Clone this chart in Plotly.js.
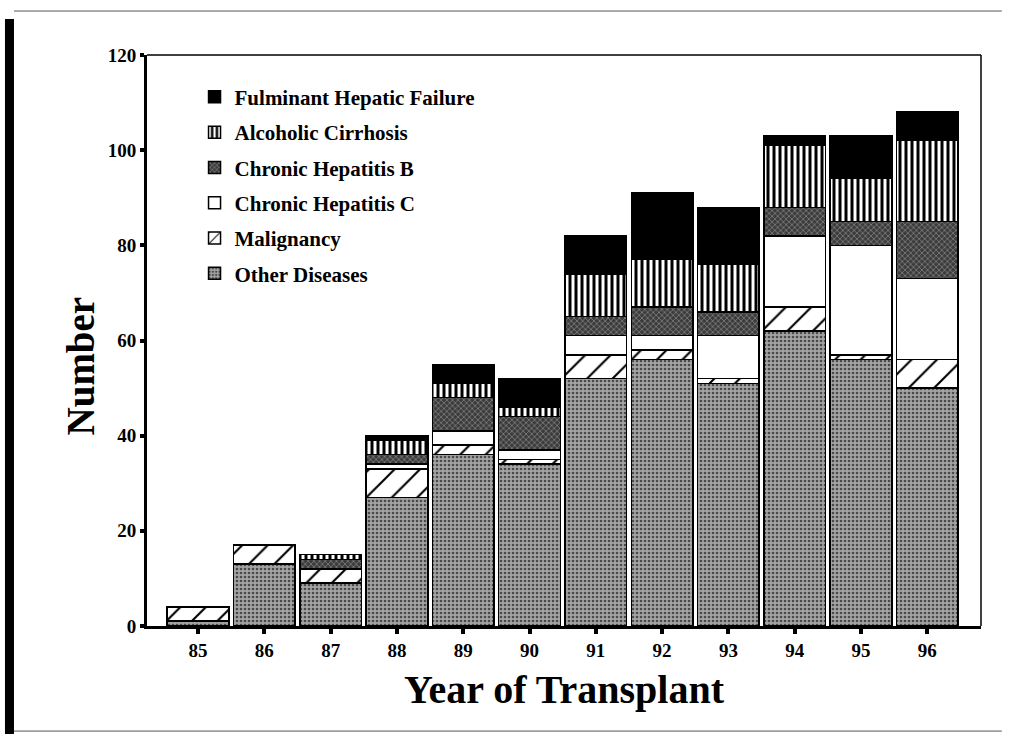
<!DOCTYPE html>
<html>
<head>
<meta charset="utf-8">
<script src="https://cdn.plot.ly/plotly-3.0.1.min.js"></script>
<style>html,body{margin:0;padding:0;background:#fff;}#chart{width:1011px;height:734px;}</style>
</head>
<body>
<div id="chart"></div>
<script>
// Data
var years = ['85','86','87','88','89','90','91','92','93','94','95','96'];
var otherDiseases      = [1, 13, 9, 27, 36, 34, 52, 56, 51, 62, 56, 50];
var malignancy         = [3, 4, 3, 6, 2, 1, 5, 2, 1, 5, 1, 6];
var chronicHepatitisC  = [0, 0, 0, 1, 3, 2, 4, 3, 9, 15, 23, 17];
var chronicHepatitisB  = [0, 0, 2, 2, 7, 7, 4, 6, 5, 6, 5, 12];
var alcoholicCirrhosis = [0, 0, 1, 3, 3, 2, 9, 10, 10, 13, 9, 17];
var fulminantFailure   = [0, 0, 0, 1, 4, 6, 8, 14, 12, 2, 9, 6];
var yTicks = [0, 20, 40, 60, 80, 100, 120];

var serif = '"Liberation Serif", "Times New Roman", serif';
var outline = {color: '#000', width: 1.5};
var barW = 0.93;

function bar(name, y, rank, pattern) {
  return {
    type: 'bar', name: name, x: years, y: y, width: barW,
    legendgroup: name, legendrank: rank,
    marker: {color: pattern.bg, line: outline,
             pattern: {shape: pattern.shape || '', fgcolor: pattern.fg || '#000',
                       bgcolor: pattern.bg, size: pattern.size || 8,
                       solidity: pattern.solidity || 0.3, fillmode: 'replace'}},
    hoverinfo: 'name+y'
  };
}

var data = [
  bar('Other Diseases', otherDiseases, 6, {bg: '#a4a4a4', shape: '.', fg: '#4a4a4a', size: 4, solidity: 0.35}),
  bar('Malignancy', malignancy, 5, {bg: '#ffffff', shape: '/', fg: '#000', size: 18, solidity: 0.12}),
  bar('Chronic Hepatitis C', chronicHepatitisC, 4, {bg: '#ffffff'}),
  bar('Chronic Hepatitis B', chronicHepatitisB, 3, {bg: '#3c3c3c', shape: 'x', fg: '#bdbdbd', size: 4, solidity: 0.2}),
  bar('Alcoholic Cirrhosis', alcoholicCirrhosis, 2, {bg: '#ffffff', shape: '|', fg: '#000', size: 6, solidity: 0.5}),
  bar('Fulminant Hepatic Failure', fulminantFailure, 1, {bg: '#000000'})
];

var layout = {
  width: 1011, height: 734,
  margin: {l: 147, r: 30, t: 55, b: 108},
  paper_bgcolor: '#fff', plot_bgcolor: '#fff',
  barmode: 'stack',
  bargap: 0.07,
  showlegend: true,
  legend: {
    x: 0.057, y: 0.962, xanchor: 'left', yanchor: 'top',
    traceorder: 'grouped', tracegroupgap: 5,
    bgcolor: 'rgba(0,0,0,0)', borderwidth: 0,
    font: {family: serif, size: 21, color: '#000', weight: 'bold'}
  },
  xaxis: {
    type: 'category', range: [-0.77, 11.81],
    showline: true, linecolor: '#000', linewidth: 3,
    ticks: 'outside', ticklen: 5, tickwidth: 4, tickcolor: '#000',
    showgrid: false, zeroline: false,
    tickfont: {family: serif, size: 19, color: '#000', weight: 'bold'},
    title: {text: 'Year of Transplant', standoff: 16,
            font: {family: serif, size: 40, color: '#000', weight: 'bold'}}
  },
  yaxis: {
    range: [0, 120], tickvals: yTicks, ticktext: yTicks.map(String),
    showline: true, linecolor: '#000', linewidth: 3,
    ticks: 'outside', ticklen: 4, tickwidth: 4, tickcolor: '#000',
    showgrid: false, zeroline: false,
    tickfont: {family: serif, size: 19, color: '#000', weight: 'bold'}
  },
  annotations: [
    {text: 'Number', xref: 'paper', yref: 'paper', x: -0.080, y: 0.455,
     xanchor: 'center', yanchor: 'middle', textangle: -90, showarrow: false,
     font: {family: serif, size: 39, color: '#000', weight: 'bold'}}
  ],
  shapes: [
    // thin frame around the plot area (top and right)
    {type: 'line', xref: 'paper', yref: 'paper', x0: 0, x1: 1, y0: 1, y1: 1, line: {color: '#000', width: 1.5}},
    {type: 'line', xref: 'paper', yref: 'paper', x0: 1, x1: 1, y0: 0, y1: 1, line: {color: '#000', width: 1.5}},
    // page decoration: thick bar on the left, thin rules at top and bottom
    {type: 'rect', xref: 'paper', yref: 'paper', x0: -0.1703, x1: -0.1595, y0: -0.19, y1: 1.063,
     fillcolor: '#000', line: {width: 0}},
    {type: 'line', xref: 'paper', yref: 'paper', x0: -0.1595, x1: 1.025, y0: 1.077, y1: 1.077,
     line: {color: '#555', width: 1}},
    {type: 'line', xref: 'paper', yref: 'paper', x0: -0.1595, x1: 1.025, y0: -0.184, y1: -0.184,
     line: {color: '#555', width: 1}}
  ]
};

Plotly.newPlot('chart', data, layout, {displayModeBar: false, staticPlot: true});
</script>
</body>
</html>
